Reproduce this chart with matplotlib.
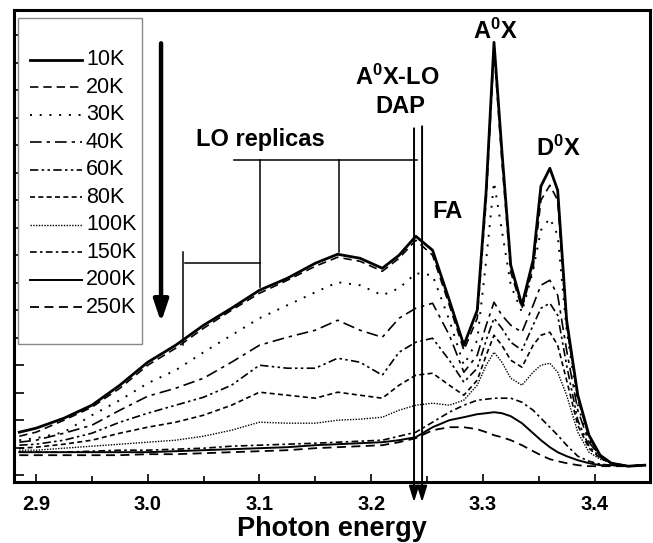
import matplotlib
matplotlib.use('Agg')
import matplotlib.pyplot as plt
from matplotlib.lines import Line2D
from matplotlib.patches import Rectangle
import numpy as np

plt.rcParams['font.family'] = ['Liberation Sans', 'DejaVu Sans']
plt.rcParams['mathtext.fontset'] = 'custom'
plt.rcParams['mathtext.rm'] = 'Liberation Sans:bold'
plt.rcParams['mathtext.bf'] = 'Liberation Sans:bold'
plt.rcParams['mathtext.it'] = 'Liberation Sans:bold'

# ---- data (photon energy in eV, PL intensity in a.u.) ----
energy = [2.885, 2.9, 2.925, 2.95, 2.975, 3.0, 3.025, 3.05, 3.075, 3.1, 3.125, 3.15,
          3.17, 3.19, 3.21, 3.225, 3.24, 3.255, 3.27, 3.283, 3.295, 3.303, 3.31, 3.317,
          3.325, 3.335, 3.345, 3.352, 3.36, 3.367, 3.375, 3.385, 3.395, 3.405, 3.415,
          3.43, 3.445]

pl_10K = [50, 54, 64, 77, 97, 120, 137, 157, 174, 192, 204, 219, 228, 224, 214, 227, 246,
          232, 182, 137, 172, 292, 440, 332, 217, 177, 222, 296, 314, 292, 162, 87, 47,
          27, 19, 16, 17]
pl_20K = [46, 50, 62, 75, 94, 117, 134, 154, 172, 189, 202, 216, 225, 221, 211, 224, 242,
          227, 177, 132, 164, 282, 432, 322, 210, 174, 214, 282, 297, 282, 157, 84, 45,
          26, 19, 16, 17]
pl_30K = [42, 44, 50, 67, 82, 99, 112, 130, 147, 164, 177, 190, 200, 197, 187, 194, 209,
          207, 162, 117, 142, 222, 300, 252, 197, 170, 212, 252, 264, 247, 152, 77, 42,
          26, 19, 16, 17]
pl_40K = [40, 42, 49, 57, 72, 86, 94, 104, 120, 137, 145, 152, 162, 152, 145, 164, 174,
          179, 147, 110, 127, 157, 180, 167, 157, 150, 177, 197, 202, 187, 132, 72, 40,
          26, 19, 16, 17]
pl_60K = [37, 38, 42, 49, 60, 69, 77, 85, 97, 117, 114, 114, 124, 120, 107, 130, 140,
          144, 122, 100, 114, 142, 164, 154, 140, 132, 157, 174, 179, 167, 117, 62, 36,
          25, 19, 16, 17]
pl_80K = [34, 35, 38, 42, 49, 55, 60, 67, 77, 90, 87, 84, 90, 87, 84, 97, 107, 109, 97,
          87, 102, 127, 147, 137, 122, 115, 137, 147, 150, 137, 102, 57, 34, 24, 19, 16, 17]
pl_100K = [32, 32, 34, 36, 38, 40, 42, 46, 52, 60, 59, 59, 62, 63, 65, 72, 77, 79, 77,
           82, 97, 117, 130, 120, 104, 97, 110, 117, 119, 110, 87, 50, 30, 23, 19, 16, 17]
pl_150K = [30, 30, 30, 31, 32, 32, 33, 34, 36, 37, 38, 39, 40, 41, 42, 46, 50, 60, 70,
           77, 82, 83, 84, 84, 84, 80, 72, 64, 55, 47, 37, 26, 21, 18, 17, 16, 17]
pl_200K = [30, 30, 30, 30, 30, 30, 31, 32, 33, 34, 35, 37, 38, 39, 40, 42, 45, 55, 62,
           65, 68, 69, 70, 69, 66, 59, 49, 42, 35, 30, 26, 22, 19, 17, 17, 16, 17]
pl_250K = [27, 27, 27, 27, 27, 28, 28, 29, 30, 31, 32, 34, 35, 36, 37, 40, 44, 52, 55,
           55, 53, 50, 47, 45, 42, 37, 31, 27, 23, 21, 19, 17, 16, 16, 16, 16, 17]

temperatures = ['10K', '20K', '30K', '40K', '60K', '80K', '100K', '150K', '200K', '250K']
x_ticks = [2.9, 3.0, 3.1, 3.2, 3.3, 3.4]
x_tick_labels = ['2.9', '3.0', '3.1', '3.2', '3.3', '3.4']

series = [pl_10K, pl_20K, pl_30K, pl_40K, pl_60K, pl_80K, pl_100K, pl_150K, pl_200K, pl_250K]
styles = [
    dict(ls='-', lw=2.0),
    dict(ls=(0, (5, 3)), lw=1.2),
    dict(ls=(0, (1, 4)), lw=1.4),
    dict(ls=(0, (7, 3, 2, 3)), lw=1.2),
    dict(ls=(0, (5, 2, 1.5, 2, 1.5, 2)), lw=1.2),
    dict(ls=(0, (3, 2)), lw=1.2),
    dict(ls=(0, (1, 1)), lw=1.0),
    dict(ls=(0, (4, 2, 1.5, 2)), lw=1.2),
    dict(ls='-', lw=1.4),
    dict(ls=(0, (5, 3)), lw=1.3),
]

W, H = 653, 543
fig = plt.figure(figsize=(W / 100, H / 100), dpi=100)
ax = fig.add_axes([0.021, 0.112, 0.975, 0.869])

for lab, ys, st in zip(temperatures, series, styles):
    ax.plot(energy, ys, color='black', label=lab, **st)

ax.set_xlim(2.88, 3.45)
ax.set_ylim(0, 472)

ax.set_xticks(x_ticks)
ax.set_xticklabels(x_tick_labels, fontsize=14.5, fontweight='bold')
ax.set_xticks(np.arange(2.95, 3.45, 0.1), minor=True)
ax.set_yticks(np.arange(7, 460, 27.5))
ax.set_yticklabels([])
ax.tick_params(axis='x', which='major', direction='in', length=6, width=1.2, pad=9)
ax.tick_params(axis='x', which='minor', direction='in', length=4, width=1.2)
ax.tick_params(axis='y', which='major', direction='in', length=7.5, width=1.2)
for sp in ax.spines.values():
    sp.set_linewidth(2.2)

ax.set_xlabel('Photon energy', fontsize=19.5, fontweight='bold', labelpad=2)

# ---- legend drawn in figure pixel space ----
def fx(px):
    return px / W

def fy(py):
    return 1 - py / H

frame = Rectangle((fx(18), fy(344)), fx(142) - fx(18), fy(18) - fy(344),
                  transform=fig.transFigure, facecolor='white', edgecolor='#888888',
                  lw=1.0, zorder=5)
fig.add_artist(frame)
for i, (lab, st) in enumerate(zip(temperatures, styles)):
    yy = 60 + 27.45 * i
    fig.add_artist(Line2D([fx(30), fx(82)], [fy(yy), fy(yy)], transform=fig.transFigure,
                          color='black', zorder=6, **st))
    fig.text(fx(86), fy(yy), lab, fontsize=15.5, ha='left', va='center', zorder=6)

# big temperature arrow
ax.annotate('', xy=(3.0119, 160), xytext=(3.0119, 439),
            arrowprops=dict(arrowstyle='-|>,head_width=0.22,head_length=0.65',
                            lw=3.2, color='black', mutation_scale=20, shrinkA=0, shrinkB=0))

# LO replica brackets
lk = dict(color='black', lw=1.1)
ax.plot([3.0773, 3.2411], [322, 322], **lk)
ax.plot([3.1005, 3.1005], [322, 195], **lk)
ax.plot([3.1713, 3.1713], [322, 230], **lk)
ax.plot([3.0334, 3.1005], [219, 219], **lk)
ax.plot([3.0316, 3.0316], [230, 137], **lk)

# A0X-LO / DAP arrows reaching below the axis
for xa, ytop in [(3.2384, 354), (3.2456, 356)]:
    ax.annotate('', xy=(xa, -20), xytext=(xa, ytop), annotation_clip=False,
                arrowprops=dict(arrowstyle='-|>,head_width=0.25,head_length=0.8',
                                lw=1.4, color='black', mutation_scale=12,
                                shrinkA=0, shrinkB=0))

tk = dict(fontsize=17, fontweight='bold', ha='center', va='center')
ax.text(3.101, 343, 'LO replicas', **tk)
ax.text(3.2235, 405, r'A$^{0}$X-LO', **tk)
ax.text(3.2265, 376, 'DAP', **tk)
ax.text(3.2685, 271, 'FA', **tk)
ax.text(3.3111, 451, r'A$^{0}$X', **tk)
ax.text(3.3675, 334, r'D$^{0}$X', **tk)

fig.savefig('out.png', dpi=100)
